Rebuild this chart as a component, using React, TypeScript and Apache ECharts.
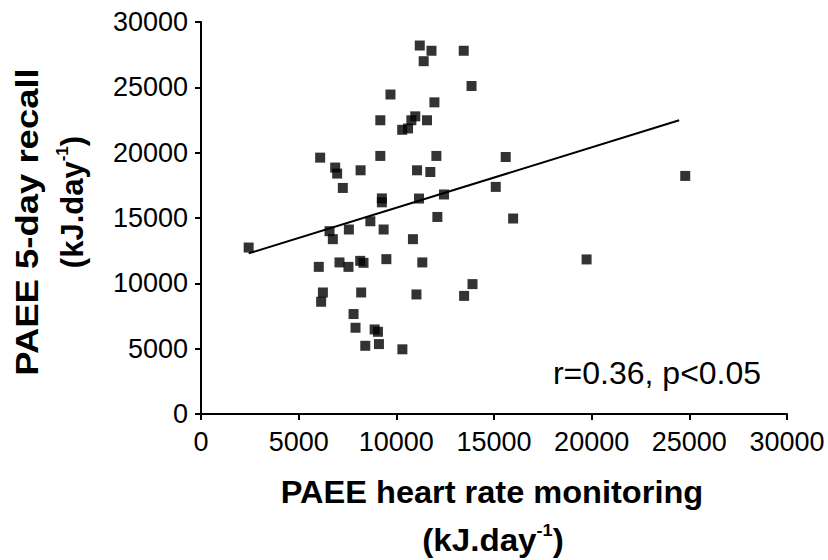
import React, { useEffect, useRef } from "react";
import * as echarts from "echarts";

const xTicks = [0, 5000, 10000, 15000, 20000, 25000, 30000];
const yTicks = [0, 5000, 10000, 15000, 20000, 25000, 30000];

// PAEE heart rate monitoring (x) vs PAEE 5-day recall (y), kJ/day
const hrValues = [
  11200, 11800, 11400, 13450, 13850, 9700, 11950, 9180, 10970, 10770,
  11570, 10300, 10600, 6100, 9180, 12050, 15600, 6870, 6970, 8170,
  11060, 11740, 7260, 15090, 9260, 9260, 11160, 12440, 12100, 15980,
  2440, 6580, 6750, 7570, 8670, 9350, 10850, 6030, 7090, 7550,
  8150, 8320, 9490, 11330, 6240, 6150, 8200, 11030, 13470, 13900,
  7810, 7910, 8890, 9060, 8410, 9110, 10310, 19740, 24790,
];
const recallValues = [
  28200, 27800, 27000, 27800, 25100, 24450, 23850, 22480, 22780, 22480,
  22480, 21750, 21850, 19620, 19750, 19750, 19670, 18860, 18400, 18650,
  18650, 18520, 17300, 17380, 16500, 16200, 16490, 16800, 15080, 14960,
  12740, 13990, 13380, 14120, 14750, 14120, 13380, 11260, 11600, 11260,
  11720, 11570, 11850, 11600, 9300, 8590, 9300, 9150, 9040, 9940,
  7650, 6600, 6470, 6290, 5220, 5350, 4950, 11830, 18220,
];
const fitX = [2440, 24480];
const fitY = [12290, 22480];

const annotation = "r=0.36, p<0.05";
const xTitle = "PAEE heart rate monitoring";
const yTitle = "PAEE 5-day recall";

export default function App() {
  const ref = useRef<HTMLDivElement>(null);
  useEffect(() => {
    document.body.style.margin = "0";
    const chart = echarts.init(ref.current!, null, { renderer: "svg" });
    const tickFont = "Liberation Sans";
    const unitRich = {
      a: { fontFamily: "Liberation Sans", fontWeight: "bold", fontSize: 31, color: "#000", lineHeight: 36 },
      s: { fontFamily: "Liberation Sans", fontWeight: "bold", fontSize: 17, color: "#000", verticalAlign: "top", lineHeight: 36 },
    };
    chart.setOption({
      animation: false,
      backgroundColor: "#fff",
      grid: { left: 201, right: 41, top: 22, bottom: 146 },
      xAxis: {
        type: "value",
        min: 0,
        max: 30000,
        interval: 5000,
        axisLine: { show: true, lineStyle: { color: "#000", width: 2 } },
        axisTick: { show: true, inside: false, length: 6, lineStyle: { color: "#000", width: 2 } },
        splitLine: { show: false },
        axisLabel: {
          margin: 14,
          fontFamily: tickFont,
          fontSize: 27,
          color: "#000",
          formatter: (v: number) => (xTicks.includes(v) ? String(v) : ""),
        },
      },
      yAxis: {
        type: "value",
        min: 0,
        max: 30000,
        interval: 5000,
        axisLine: { show: true, lineStyle: { color: "#000", width: 2 } },
        axisTick: { show: true, inside: false, length: 6, lineStyle: { color: "#000", width: 2 } },
        splitLine: { show: false },
        axisLabel: {
          margin: 13,
          fontFamily: tickFont,
          fontSize: 27,
          color: "#000",
          formatter: (v: number) => (yTicks.includes(v) ? String(v) : ""),
        },
      },
      series: [
        {
          type: "line",
          data: fitX.map((x, i) => [x, fitY[i]]),
          symbol: "none",
          lineStyle: { color: "#000", width: 2 },
          z: 1,
        },
        {
          type: "scatter",
          symbol: "rect",
          symbolSize: 10,
          itemStyle: { color: "#000" },
          data: hrValues.map((x, i) => [x, recallValues[i]]),
          z: 2,
        },
      ],
      graphic: [
        {
          type: "text",
          x: 657,
          y: 373,
          style: {
            text: annotation,
            font: "32px 'Liberation Sans'",
            fill: "#000",
            textAlign: "center",
            textVerticalAlign: "middle",
          },
        },
        {
          type: "text",
          x: 492,
          y: 492,
          scaleX: 1.05,
          style: {
            text: xTitle,
            font: "bold 31px 'Liberation Sans'",
            fill: "#000",
            textAlign: "center",
            textVerticalAlign: "middle",
          },
        },
        {
          type: "text",
          x: 493,
          y: 540,
          scaleX: 1.07,
          style: {
            text: "{a|(kJ.day}{s|-1}{a|)}",
            rich: unitRich,
            textAlign: "center",
            textVerticalAlign: "middle",
          },
        },
        {
          type: "text",
          x: 27,
          y: 222,
          rotation: Math.PI / 2,
          scaleX: 1.14,
          style: {
            text: yTitle,
            font: "bold 32px 'Liberation Sans'",
            fill: "#000",
            textAlign: "center",
            textVerticalAlign: "middle",
          },
        },
        {
          type: "text",
          x: 72,
          y: 202,
          rotation: Math.PI / 2,
          style: {
            text: "{a|(kJ.day}{s|-1}{a|)}",
            rich: unitRich,
            textAlign: "center",
            textVerticalAlign: "middle",
          },
        },
      ],
    });
    return () => chart.dispose();
  }, []);
  return <div ref={ref} style={{ width: 828, height: 560 }} />;
}
